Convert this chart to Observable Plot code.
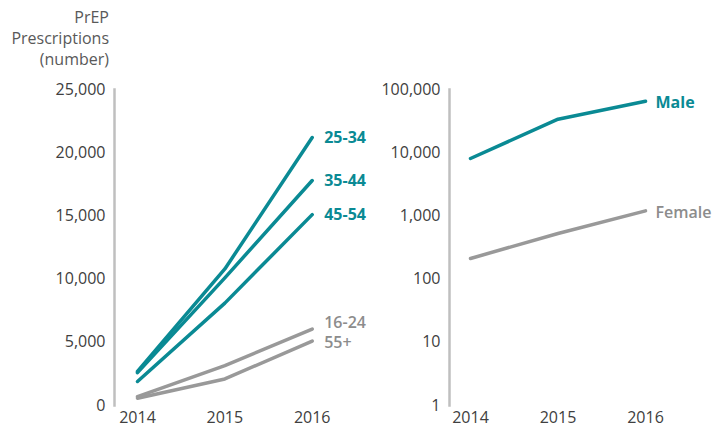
<!DOCTYPE html>
<html>
<head>
<meta charset="utf-8">
<script src="https://cdn.jsdelivr.net/npm/d3@7"></script>
<script src="https://cdn.jsdelivr.net/npm/@observablehq/plot@0.6"></script>
<style>
  html, body { margin: 0; padding: 0; background: #fff; }
  #wrap { position: relative; width: 715px; height: 428px; font-family: "Open Sans", sans-serif; }
  #title { position: absolute; left: 0; top: 7px; width: 109px; text-align: right; font-size: 16px; line-height: 21px; color: #595959; }
  #left, #right { position: absolute; top: 0; }
  #left { left: 0; }
  #right { left: 360px; }
</style>
</head>
<body>
<div id="wrap">
  <div id="left"></div>
  <div id="right"></div>
  <div id="title">PrEP<br>Prescriptions<br>(number)</div>
</div>
<script>
// ---- data ----
const years = [2014, 2015, 2016];
const ageGroups = ["25-34", "35-44", "45-54", "16-24", "55+"];
const age25_34 = [2700, 10800, 21200];
const age35_44 = [2600, 10100, 17800];
const age45_54 = [1900, 8100, 15100];
const age16_24 = [700, 3150, 6050];
const age55plus = [580, 2100, 5100];
const ageSeries = [age25_34, age35_44, age45_54, age16_24, age55plus];
const leftTicks = [0, 5000, 10000, 15000, 20000, 25000];

const sexGroups = ["Male", "Female"];
const male = [8100, 33900, 65300];
const female = [212, 527, 1200];
const sexSeries = [male, female];
const rightTicks = [1, 10, 100, 1000, 10000, 100000];

// ---- styles ----
const TEAL = "#0a8a94";
const GRAY = "#999999";
const GRAY_TEXT = "#8c8c8c";
const AXIS = "#bfbfbf";
const highlightAge = new Set(["25-34", "35-44", "45-54"]);
const highlightSex = new Set(["Male"]);

const ageRows = ageGroups.flatMap((g, i) => years.map((y, j) => ({group: g, year: y, value: ageSeries[i][j]})));
const sexRows = sexGroups.flatMap((g, i) => years.map((y, j) => ({group: g, year: y, value: sexSeries[i][j]})));
const lastYear = years[years.length - 1];

const fmt = d3.format(",");
const style = {fontFamily: "Open Sans, sans-serif", fontSize: "16px", color: "#404040", background: "transparent", overflow: "visible"};

// label nudges (vertical) to avoid overlap
const ageDy = {"16-24": -6, "55+": 2};

const leftMarks = [
  Plot.frame({anchor: "left", stroke: AXIS, strokeWidth: 2.5}),
  Plot.axisY({ticks: leftTicks, tickFormat: fmt, tickSize: 0, tickPadding: 9, fontSize: 16, label: null}),
  Plot.axisX({ticks: years, tickFormat: d => String(d), tickSize: 0, tickPadding: 6, fontSize: 16, label: null}),
  Plot.line(ageRows.filter(d => !highlightAge.has(d.group)), {x: "year", y: "value", z: "group", stroke: GRAY, strokeWidth: 3.5}),
  Plot.line(ageRows.filter(d => highlightAge.has(d.group)), {x: "year", y: "value", z: "group", stroke: TEAL, strokeWidth: 3.5}),
];
for (const g of ageGroups) {
  const hl = highlightAge.has(g);
  leftMarks.push(Plot.text(ageRows.filter(d => d.group === g && d.year === lastYear), {
    x: "year", y: "value", text: "group", textAnchor: "start", dx: 12, dy: ageDy[g] || 0,
    fill: hl ? TEAL : GRAY_TEXT, fontWeight: hl ? "bold" : 600, fontSize: 16
  }));
}

const leftPlot = Plot.plot({
  width: 360, height: 428,
  marginLeft: 114, marginRight: 0, marginTop: 89, marginBottom: 23,
  style,
  x: {domain: [2014, 2016], range: [137, 311.7]},
  y: {domain: [0, 25000], range: [405, 89]},
  marks: leftMarks
});
document.getElementById("left").appendChild(leftPlot);

const rightMarks = [
  Plot.frame({anchor: "left", stroke: AXIS, strokeWidth: 2.5}),
  Plot.axisY({ticks: rightTicks, tickFormat: fmt, tickSize: 0, tickPadding: 9, fontSize: 16, label: null}),
  Plot.axisX({ticks: years, tickFormat: d => String(d), tickSize: 0, tickPadding: 6, fontSize: 16, label: null}),
  Plot.line(sexRows.filter(d => !highlightSex.has(d.group)), {x: "year", y: "value", z: "group", stroke: GRAY, strokeWidth: 3.5}),
  Plot.line(sexRows.filter(d => highlightSex.has(d.group)), {x: "year", y: "value", z: "group", stroke: TEAL, strokeWidth: 3.5}),
];
for (const g of sexGroups) {
  const hl = highlightSex.has(g);
  rightMarks.push(Plot.text(sexRows.filter(d => d.group === g && d.year === lastYear), {
    x: "year", y: "value", text: "group", textAnchor: "start", dx: 10, dy: 2,
    fill: hl ? TEAL : GRAY_TEXT, fontWeight: hl ? "bold" : 600, fontSize: 16
  }));
}

const rightPlot = Plot.plot({
  width: 355, height: 428,
  marginLeft: 89, marginRight: 0, marginTop: 89, marginBottom: 23,
  style,
  x: {domain: [2014, 2016], range: [110, 285]},
  y: {type: "log", domain: [1, 100000], range: [405, 89]},
  marks: rightMarks
});
document.getElementById("right").appendChild(rightPlot);
</script>
</body>
</html>
